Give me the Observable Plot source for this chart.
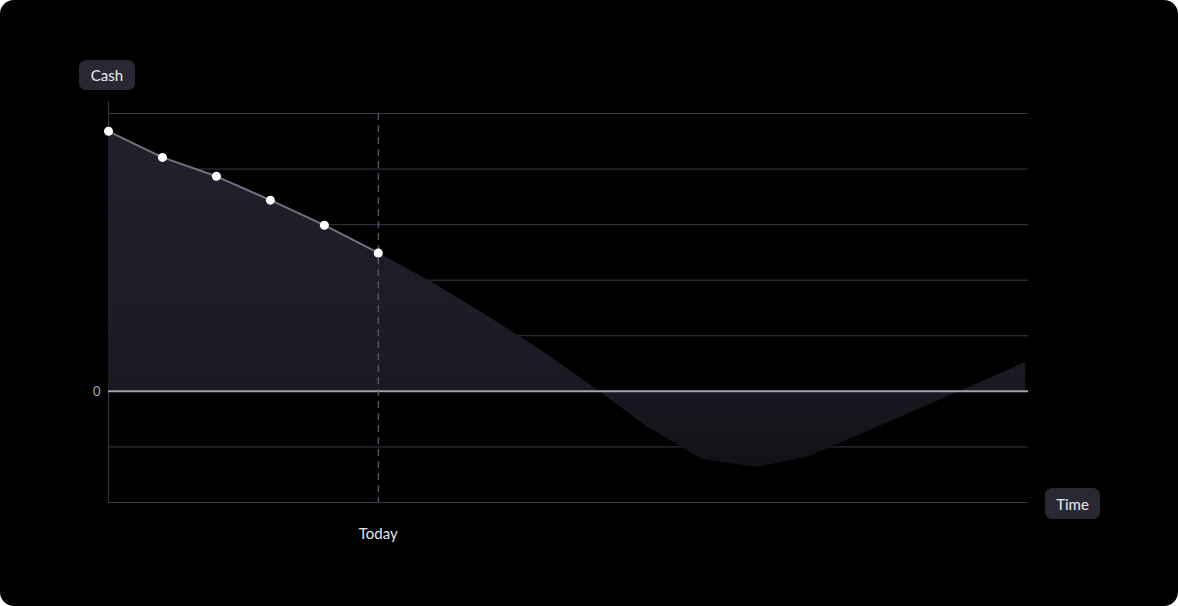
<!DOCTYPE html>
<html>
<head>
<meta charset="utf-8">
<script src="https://cdn.jsdelivr.net/npm/d3@7"></script>
<script src="https://cdn.jsdelivr.net/npm/@observablehq/plot@0.6"></script>
<style>
  html, body { margin: 0; padding: 0; background: #ffffff; }
  #wrap { position: relative; width: 1178px; height: 606px; background: #000; border-radius: 14px; overflow: hidden; font-family: Lato, "Noto Sans", sans-serif; }
  .badge { position: absolute; background: #2a2833; color: #eceaf0; border-radius: 7px; font-size: 15px; display: flex; align-items: center; justify-content: center; }
  svg { display: block; }
</style>
</head>
<body>
<div id="wrap"></div>
<script>
// Time steps (index), "Today" is step 5
const pastSteps = [0, 1, 2, 3, 4, 5];
const pastCash = [4.68, 4.21, 3.87, 3.44, 2.99, 2.49];
const forecastSteps = [5, 6, 7, 8, 9, 10, 11, 12, 13, 14, 15, 16, 17];
const forecastCash = [2.49, 1.96, 1.37, 0.75, 0.07, -0.65, -1.22, -1.37, -1.17, -0.75, -0.33, 0.09, 0.52];
const gridValues = [-2, -1, 1, 2, 3, 4, 5];
const todayStep = 5;
const todayLabel = "Today";
const yLabel = "Cash";
const xLabel = "Time";

const past = pastSteps.map((t, i) => ({t, cash: pastCash[i]}));
const forecast = forecastSteps.map((t, i) => ({t, cash: forecastCash[i]}));
const all = past.concat(forecast.slice(1));

const chart = Plot.plot({
  width: 1178,
  height: 606,
  marginLeft: 108,
  marginRight: 150,
  marginTop: 113,
  marginBottom: 104,
  style: {background: "transparent", fontFamily: "Lato, 'Noto Sans', sans-serif"},
  x: {domain: [0, 17.05]},
  y: {domain: [-2, 5]},
  marks: [
    Plot.ruleY(gridValues, {stroke: "#3a3848", strokeWidth: 1}),
    Plot.ruleX([0], {y1: -2, y2: 5.2, stroke: "#3a3848", strokeWidth: 1, clip: false}),
    Plot.areaY(all, {x: "t", y: "cash", fill: "url(#cashGrad)"}),
    Plot.ruleY([0], {stroke: "#a3a1ab", strokeWidth: 2}),
    Plot.ruleX([todayStep], {stroke: "#5a5870", strokeWidth: 1.3, strokeDasharray: "7,5"}),
    Plot.line(past, {x: "t", y: "cash", stroke: "#73707f", strokeWidth: 2}),
    Plot.dot(past, {x: "t", y: "cash", r: 4.5, fill: "#ffffff", stroke: "none"}),
    Plot.axisX([todayStep], {tickSize: 0, tickPadding: 26, tickFormat: () => todayLabel, fontSize: 15, fill: "#e6e6ea", label: null}),
    Plot.axisY([0], {tickSize: 0, tickPadding: 8, tickFormat: d => String(d), fontSize: 13, fill: "#a8a6b0", label: null})
  ]
});

// gradient for the area
const ns = "http://www.w3.org/2000/svg";
const defs = document.createElementNS(ns, "defs");
const grad = document.createElementNS(ns, "linearGradient");
grad.setAttribute("id", "cashGrad");
grad.setAttribute("gradientUnits", "userSpaceOnUse");
grad.setAttribute("x1", "0"); grad.setAttribute("x2", "0");
grad.setAttribute("y1", "113"); grad.setAttribute("y2", "470");
[["0", "#23202d"], ["0.7", "#1c1a24"], ["1", "#121117"]].forEach(([o, c]) => {
  const s = document.createElementNS(ns, "stop");
  s.setAttribute("offset", o); s.setAttribute("stop-color", c);
  grad.appendChild(s);
});
defs.appendChild(grad);
chart.insertBefore(defs, chart.firstChild);

const wrap = document.getElementById("wrap");
wrap.appendChild(chart);

const cash = document.createElement("div");
cash.className = "badge";
cash.textContent = yLabel;
Object.assign(cash.style, {left: "79px", top: "60px", width: "56px", height: "30px"});
wrap.appendChild(cash);

const time = document.createElement("div");
time.className = "badge";
time.textContent = xLabel;
Object.assign(time.style, {left: "1045px", top: "488px", width: "55px", height: "31px"});
wrap.appendChild(time);
</script>
</body>
</html>
